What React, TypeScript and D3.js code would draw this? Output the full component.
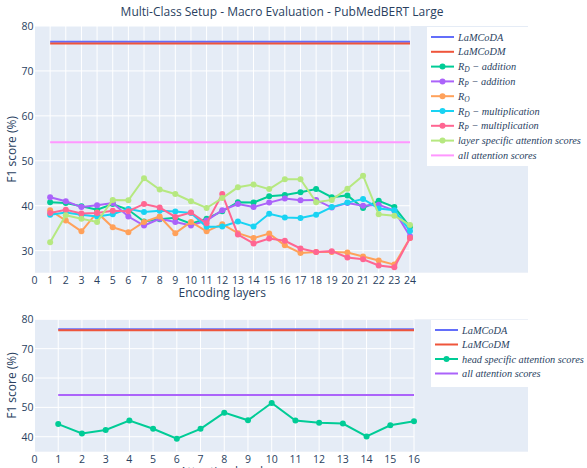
import React from 'react';
import * as d3 from 'd3';

const layers = d3.range(1, 25);
const heads = d3.range(1, 17);

const lamcodaTop = 76.5;
const lamcodmTop = 76.1;
const allAttnTop = 54.15;

const rdAddition = [40.8, 40.6, 39.9, 39.1, 40.4, 39.1, 36.5, 37.0, 37.3, 36.0, 37.1, 38.8, 40.8, 40.7, 42.1, 42.4, 43.0, 43.7, 41.9, 42.3, 39.5, 41.1, 39.7, 35.3];
const rpAddition = [41.9, 41.0, 39.7, 40.1, 40.6, 37.6, 35.6, 37.1, 36.4, 35.6, 36.7, 39.0, 40.4, 39.7, 40.7, 41.6, 41.2, 41.3, 39.6, 40.6, 40.0, 40.2, 38.9, 33.2];
const ro = [39.0, 36.7, 34.3, 38.5, 35.2, 34.1, 36.4, 37.6, 33.9, 36.4, 34.3, 35.9, 33.9, 32.8, 33.8, 31.2, 29.5, 29.7, 29.7, 29.6, 28.7, 27.8, 26.9, 32.8];
const rdMult = [38.0, 38.5, 38.0, 37.6, 38.1, 39.3, 38.6, 38.9, 38.7, 38.4, 35.3, 35.4, 36.5, 35.4, 38.2, 37.4, 37.3, 38.0, 39.7, 40.7, 41.5, 39.4, 39.0, 34.4];
const rpMult = [38.4, 39.1, 38.3, 38.4, 38.9, 38.8, 40.4, 39.6, 37.5, 38.5, 36.1, 42.6, 33.6, 31.6, 32.7, 32.2, 30.5, 29.7, 29.9, 28.5, 28.1, 26.7, 26.3, 32.8];
const layerSpecific = [31.9, 37.9, 37.1, 36.4, 41.3, 41.2, 46.1, 43.6, 42.6, 41.0, 39.5, 41.7, 44.1, 44.7, 43.7, 45.9, 45.9, 40.8, 41.3, 43.8, 46.7, 38.1, 37.8, 35.7];

const lamcodaBottom = 76.6;
const lamcodmBottom = 76.25;
const allAttnBottom = 54.2;
const headSpecific = [44.3, 41.1, 42.3, 45.5, 42.7, 39.3, 42.7, 48.2, 45.6, 51.5, 45.5, 44.8, 44.5, 40.1, 43.9, 45.3];

const topTicksY = [30, 40, 50, 60, 70, 80];
const bottomTicksY = [40, 50, 60, 70, 80];

const C = {
  blue: '#636efa', red: '#EF553B', green: '#00cc96', purple: '#ab63fa',
  orange: '#FFA15A', cyan: '#19d3f3', pink: '#FF6692', lime: '#B6E880', magenta: '#FF97FF',
};
const FONT = '"Open Sans", "DejaVu Sans", sans-serif';
const MATH = '"Liberation Serif", "DejaVu Serif", serif';
const INK = '#2a3f5f';

type Series = { label: React.ReactNode; color: string; xs: number[]; ys: number[]; markers: boolean };

const Sub = ({ base, sub, rest }: { base: string; sub: string; rest?: string }) => (
  <>
    {base}
    <tspan baselineShift="-25%" fontSize="7.5">{sub}</tspan>
    {rest ? <tspan>{rest}</tspan> : null}
  </>
);

function Panel(props: {
  top: number; bottom: number; xMax: number; xRight: number; yMin: number; yTicks: number[];
  series: Series[]; xTitle: string; legendX: number; legendY: number; legendH: number; rowH: number;
}) {
  const { top, bottom, xMax, xRight, yMin, yTicks, series, xTitle, legendX, legendY, legendH, rowH } = props;
  const left = 35;
  const bgRight = 528;
  const x = d3.scaleLinear().domain([0, xMax]).range([34.5, xRight]);
  const y = d3.scaleLinear().domain([yMin, 80]).range([bottom, top]);
  const line = d3.line<[number, number]>().x(d => x(d[0])).y(d => y(d[1]));
  const xTicks = d3.range(0, xMax + 1);
  return (
    <g>
      <rect x={left} y={top} width={bgRight - left} height={bottom - top} fill="#E5ECF6" />
      {xTicks.filter(t => t > 0).map(t => (
        <line key={'vx' + t} x1={x(t)} x2={x(t)} y1={top} y2={bottom} stroke="#fff" strokeWidth={1} />
      ))}
      {yTicks.map(t => (
        <line key={'hy' + t} x1={left} x2={x(xMax)} y1={y(t)} y2={y(t)} stroke="#fff" strokeWidth={1} />
      ))}
      {series.map((s, i) => (
        <g key={i}>
          <path d={line(s.xs.map((v, j) => [v, s.ys[j]] as [number, number])) || ''} fill="none" stroke={s.color} strokeWidth={2} />
          {s.markers && s.xs.map((v, j) => (
            <circle key={j} cx={x(v)} cy={y(s.ys[j])} r={3} fill={s.color} />
          ))}
        </g>
      ))}
      {xTicks.map(t => (
        <text key={'xt' + t} x={x(t)} y={bottom + 11} textAnchor="middle" fontSize={10.5} fill={INK} fontFamily={FONT}>{t}</text>
      ))}
      {yTicks.map(t => (
        <text key={'yt' + t} x={33.5} y={y(t) + 4} textAnchor="end" fontSize={10.5} fill={INK} fontFamily={FONT}>{t}</text>
      ))}
      <text x={(x(0) + x(xMax)) / 2} y={bottom + 24} textAnchor="middle" fontSize={12} fill={INK} fontFamily={FONT}>{xTitle}</text>
      <text transform={`translate(16,${(top + bottom) / 2}) rotate(-90)`} textAnchor="middle" fontSize={12} fill={INK} fontFamily={FONT}>F1 score (%)</text>
      <rect x={legendX} y={legendY} width={587 - legendX} height={legendH} fill="#fff" />
      {series.map((s, i) => {
        const cy = legendY + 10 + i * rowH;
        return (
          <g key={'lg' + i}>
            <line x1={legendX + 4} x2={legendX + 27} y1={cy} y2={cy} stroke={s.color} strokeWidth={2} />
            {s.markers && <circle cx={legendX + 15.5} cy={cy} r={3} fill={s.color} />}
            <text x={legendX + 31} y={cy + 3.5} fontSize={10.3} fontStyle="italic" fill={INK} fontFamily={MATH}>{s.label}</text>
          </g>
        );
      })}
    </g>
  );
}

export default function App() {
  const topSeries: Series[] = [
    { label: 'LaMCoDA', color: C.blue, xs: [1, 24], ys: [lamcodaTop, lamcodaTop], markers: false },
    { label: 'LaMCoDM', color: C.red, xs: [1, 24], ys: [lamcodmTop, lamcodmTop], markers: false },
    { label: <Sub base="R" sub="D" rest=" − addition" />, color: C.green, xs: layers, ys: rdAddition, markers: true },
    { label: <Sub base="R" sub="P" rest=" − addition" />, color: C.purple, xs: layers, ys: rpAddition, markers: true },
    { label: <Sub base="R" sub="O" />, color: C.orange, xs: layers, ys: ro, markers: true },
    { label: <Sub base="R" sub="D" rest=" − multiplication" />, color: C.cyan, xs: layers, ys: rdMult, markers: true },
    { label: <Sub base="R" sub="P" rest=" − multiplication" />, color: C.pink, xs: layers, ys: rpMult, markers: true },
    { label: 'layer specific attention scores', color: C.lime, xs: layers, ys: layerSpecific, markers: true },
    { label: 'all attention scores', color: C.magenta, xs: [1, 24], ys: [allAttnTop, allAttnTop], markers: false },
  ];
  const bottomSeries: Series[] = [
    { label: 'LaMCoDA', color: C.blue, xs: [1, 16], ys: [lamcodaBottom, lamcodaBottom], markers: false },
    { label: 'LaMCoDM', color: C.red, xs: [1, 16], ys: [lamcodmBottom, lamcodmBottom], markers: false },
    { label: 'head specific attention scores', color: C.green, xs: heads, ys: headSpecific, markers: true },
    { label: 'all attention scores', color: C.purple, xs: [1, 16], ys: [allAttnBottom, allAttnBottom], markers: false },
  ];
  return (
    <svg width={587} height={468} style={{ position: 'absolute', left: 0, top: 0, background: '#fff' }}>
      <text x={282} y={16} textAnchor="middle" fontSize={12} fill={INK} fontFamily={FONT}>
        Multi-Class Setup - Macro Evaluation - PubMedBERT Large
      </text>
      <Panel top={26} bottom={272.7} xMax={24} xRight={410} yMin={25.1} yTicks={topTicksY}
        series={topSeries} xTitle="Encoding layers" legendX={427} legendY={27} legendH={139} rowH={14.8} />
      <Panel top={319.3} bottom={451.7} xMax={16} xRight={414} yMin={34.9} yTicks={bottomTicksY}
        series={bottomSeries} xTitle="Attention heads" legendX={431} legendY={320} legendH={67} rowH={14.5} />
    </svg>
  );
}
